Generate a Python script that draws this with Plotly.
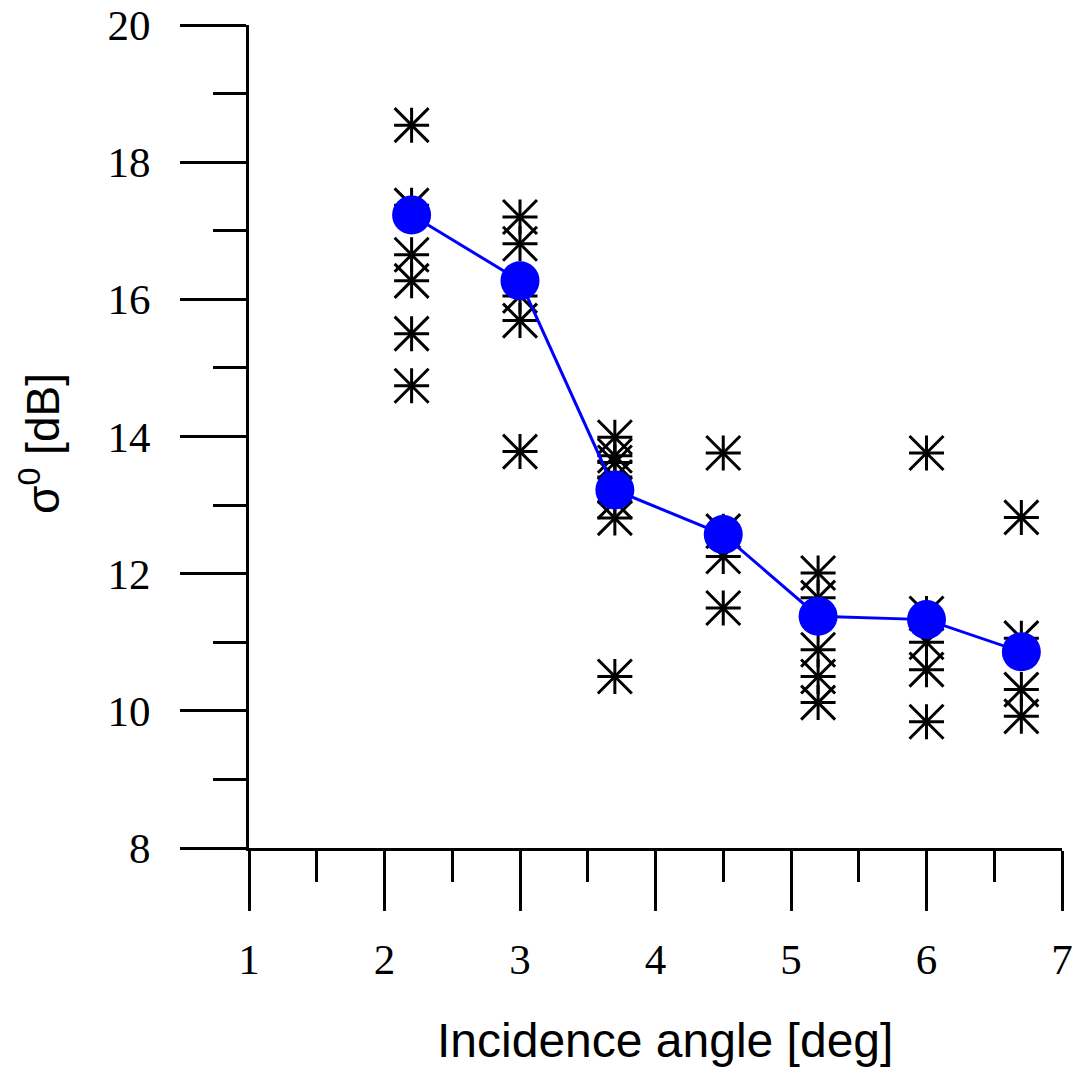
import plotly.graph_objects as go

# Individual backscatter samples per incidence angle
angle_samples = (
    [2.2] * 6 + [3.0] * 5 + [3.7] * 7 + [4.5] * 4 + [5.2] * 5 + [6.0] * 5 + [6.7] * 4
)
sigma_samples = [
    18.54, 17.37, 16.65, 16.27, 15.50, 14.74,          # 2.2 deg
    17.20, 16.81, 16.05, 15.69, 13.78,                 # 3.0 deg
    13.99, 13.72, 13.62, 13.41, 13.05, 12.81, 10.50,   # 3.7 deg
    13.76, 12.62, 12.25, 11.50,                        # 4.5 deg
    12.01, 11.65, 10.89, 10.50, 10.12,                 # 5.2 deg
    13.76, 11.42, 11.00, 10.60, 9.84,                  # 6.0 deg
    12.82, 11.06, 10.31, 9.92,                         # 6.7 deg
]

# Mean backscatter per incidence angle
angle_mean = [2.2, 3.0, 3.7, 4.5, 5.2, 6.0, 6.7]
sigma_mean = [17.23, 16.27, 13.22, 12.57, 11.38, 11.33, 10.86]

x_ticks = [1, 2, 3, 4, 5, 6, 7]
y_ticks = [8, 10, 12, 14, 16, 18, 20]

fig = go.Figure()

# Asterisk made from a "+" and an "x" drawn on the same points
fig.add_trace(go.Scatter(
    x=angle_samples, y=sigma_samples, mode="markers",
    marker=dict(symbol="cross-thin-open", size=25, color="black",
                line=dict(color="black", width=3)),
    showlegend=False, cliponaxis=False,
))
fig.add_trace(go.Scatter(
    x=angle_samples, y=sigma_samples, mode="markers",
    marker=dict(symbol="x-thin-open", size=34, color="black",
                line=dict(color="black", width=3)),
    showlegend=False, cliponaxis=False,
))

# Mean curve
fig.add_trace(go.Scatter(
    x=angle_mean, y=sigma_mean, mode="lines+markers",
    line=dict(color="#0000FF", width=3),
    marker=dict(symbol="circle", size=39, color="#0000FF", line=dict(width=0)),
    showlegend=False, cliponaxis=False,
))

tick_font = dict(family="Liberation Serif", size=43, color="black")

fig.update_xaxes(
    range=[1, 7], tickvals=x_ticks, ticktext=[str(v) for v in x_ticks],
    showline=True, linecolor="black", linewidth=3,
    ticks="outside", ticklen=60, tickwidth=3, tickcolor="black",
    minor=dict(dtick=0.5, tick0=1, ticks="outside", ticklen=31,
               tickwidth=3, tickcolor="black", showgrid=False),
    showgrid=False, zeroline=False, tickfont=tick_font,
    ticklabelstandoff=11, ticklabeloverflow="allow", automargin=False,
)
fig.update_yaxes(
    range=[8, 20], tickvals=y_ticks, ticktext=[str(v) for v in y_ticks],
    showline=True, linecolor="black", linewidth=3,
    ticks="outside", ticklen=66, tickwidth=3, tickcolor="black",
    minor=dict(dtick=1, tick0=8, ticks="outside", ticklen=33,
               tickwidth=3, tickcolor="black", showgrid=False),
    showgrid=False, zeroline=False, tickfont=tick_font,
    ticklabelstandoff=21, ticklabeloverflow="allow", automargin=False,
)

fig.add_annotation(
    text="Incidence angle [deg]", xref="paper", yref="paper",
    x=0.5117, y=-0.2333, xanchor="center", yanchor="middle",
    showarrow=False,
    font=dict(family="Liberation Sans", size=48, color="black"),
)
fig.add_annotation(
    text="σ<sup>0</sup> [dB]", xref="paper", yref="paper",
    x=-0.2571, y=0.4921, xanchor="center", yanchor="middle",
    textangle=-90, showarrow=False,
    font=dict(family="Liberation Sans", size=46, color="black"),
)

fig.update_layout(
    width=1072, height=1068,
    margin=dict(l=249, r=10, t=25, b=220),
    plot_bgcolor="white", paper_bgcolor="white",
)

fig.write_html("out.html")
